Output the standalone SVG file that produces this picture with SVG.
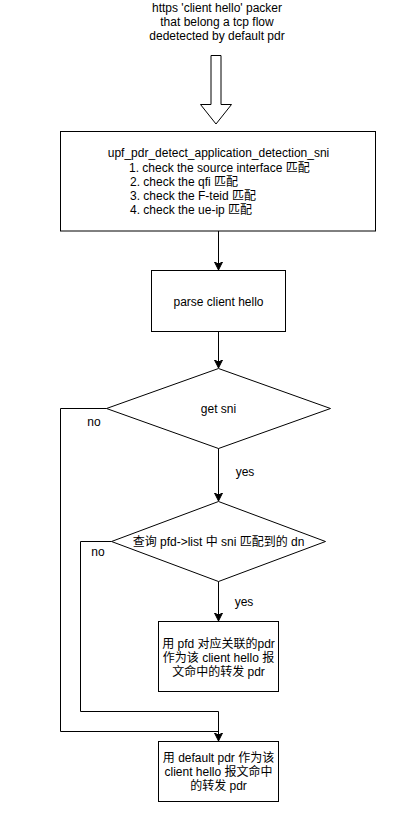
<svg xmlns="http://www.w3.org/2000/svg" width="418" height="824" viewBox="0 0 418 824">
<style>
  .shape { fill: #ffffff; stroke: #000000; stroke-width: 1; }
  .edge { fill: none; stroke: #000000; stroke-width: 1; }
  text { font-family: "Liberation Sans", Arial, "Noto Sans CJK SC", sans-serif; font-size: 12px; fill: #000000; }
  .c { text-anchor: middle; }
</style>
<defs>
  <marker id="arrow" markerWidth="10" markerHeight="10" refX="8" refY="5" orient="auto" markerUnits="userSpaceOnUse">
    <path d="M0,1 L8,5 L0,9 L2,5 Z" fill="#000000" stroke="#000000" stroke-width="1"/>
  </marker>
</defs>
<rect width="418" height="824" fill="#ffffff"/>

<g id="title">
  <text class="c" x="217" y="12">https 'client hello' packer</text>
  <text class="c" x="217" y="26">that belong a tcp flow</text>
  <text class="c" x="217" y="40">dedetected by default pdr</text>
</g>

<g id="block-arrow">
  <polygon class="shape" points="211,55.5 221,55.5 221,104.5 231.5,104.5 216,124 200.5,104.5 211,104.5"/>
</g>

<g id="detect">
  <rect class="shape" x="60.5" y="131.5" width="315" height="99.5"/>
  <text class="c" x="218.5" y="157">upf_pdr_detect_application_detection_sni</text>
  <text x="129" y="171.5">1. check the source interface 匹配</text>
  <text x="130" y="186">2. check the qfi 匹配</text>
  <text x="130" y="200">3. check the F-teid 匹配</text>
  <text x="130" y="214">4. check the ue-ip 匹配</text>
</g>

<g id="parse">
  <rect class="shape" x="151.5" y="270.5" width="134" height="61"/>
  <text class="c" x="218.5" y="305.5">parse client hello</text>
</g>

<g id="get-sni">
  <polygon class="shape" points="218.5,368.5 330.5,408.5 218.5,448.5 106.5,408.5"/>
  <text class="c" x="218.5" y="412.5">get sni</text>
</g>

<g id="query">
  <polygon class="shape" points="218.5,501.5 325.5,541.5 218.5,581.5 111.5,541.5"/>
  <text class="c" x="218.5" y="546">查询 pfd-&gt;list 中 sni 匹配到的 dn</text>
</g>

<g id="pfd-pdr">
  <rect class="shape" x="158.5" y="621.5" width="120" height="70"/>
  <text class="c" x="218.5" y="647.5">用 pfd 对应关联的pdr</text>
  <text class="c" x="218.5" y="661.5">作为该 client hello 报</text>
  <text class="c" x="218.5" y="675.5">文命中的转发 pdr</text>
</g>

<g id="default-pdr">
  <rect class="shape" x="158.5" y="741.5" width="120" height="60"/>
  <text class="c" x="218.5" y="762">用 default pdr 作为该</text>
  <text class="c" x="218.5" y="776">client hello 报文命中</text>
  <text class="c" x="218.5" y="790">的转发 pdr</text>
</g>

<g id="connectors">
  <path class="edge" d="M218.5,231 L218.5,270" marker-end="url(#arrow)"/>
  <path class="edge" d="M218.5,331.5 L218.5,368" marker-end="url(#arrow)"/>
  <path class="edge" d="M218.5,448.5 L218.5,501" marker-end="url(#arrow)"/>
  <path class="edge" d="M218.5,581.5 L218.5,621" marker-end="url(#arrow)"/>
  <path class="edge" d="M106.5,408.5 L60.5,408.5 L60.5,731.5 L218.5,731.5 L218.5,741" marker-end="url(#arrow)"/>
  <path class="edge" d="M111.5,541.5 L80.5,541.5 L80.5,711.5 L218.5,711.5 L218.5,741"/>
  <text class="c" x="94" y="426">no</text>
  <text class="c" x="245" y="476">yes</text>
  <text class="c" x="98" y="556">no</text>
  <text class="c" x="244" y="606">yes</text>
</g>
</svg>
